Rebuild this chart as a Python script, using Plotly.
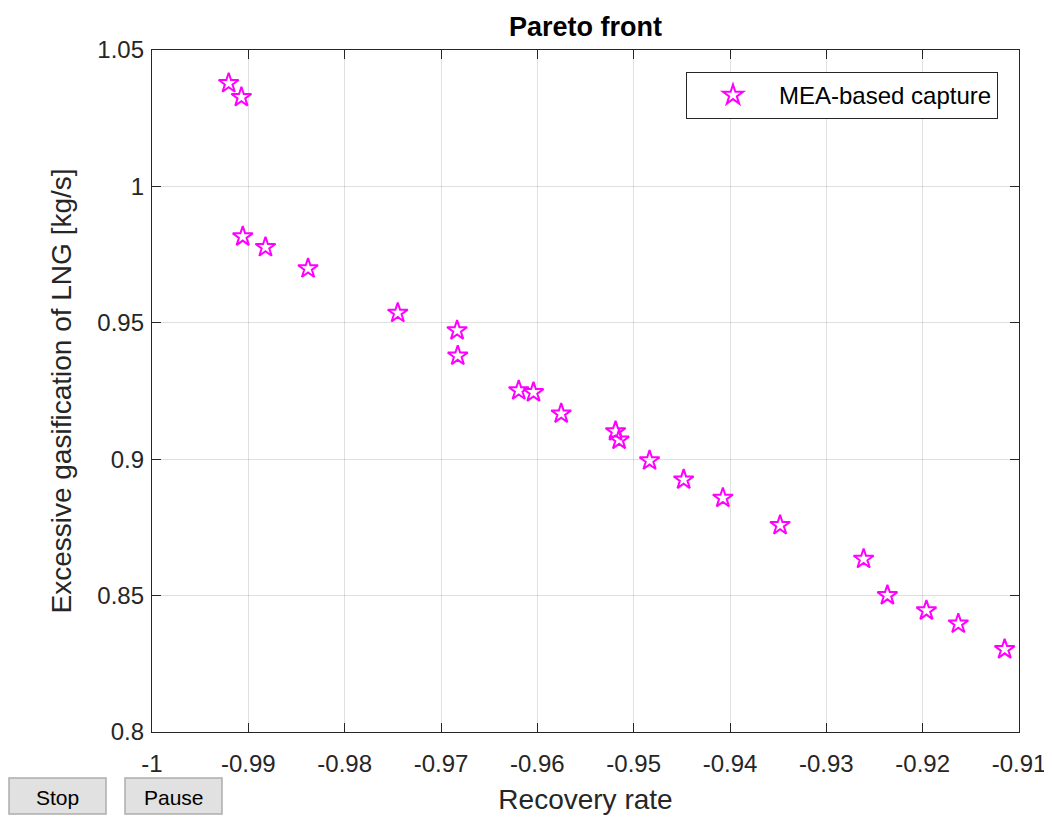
import plotly.graph_objects as go

recovery_rate = [-0.99204, -0.99072, -0.99058, -0.98822, -0.98380, -0.97449,
                 -0.96833, -0.96826, -0.96193, -0.96040, -0.95752, -0.95188,
                 -0.95151, -0.94835, -0.94481, -0.94074, -0.93480, -0.92613,
                 -0.92366, -0.91961, -0.91630, -0.91149]
excess_lng = [1.0378, 1.0327, 0.9816, 0.9777, 0.9699, 0.9536,
              0.9472, 0.9379, 0.9252, 0.9245, 0.9167, 0.9102,
              0.9071, 0.8995, 0.8925, 0.8858, 0.8758, 0.8634,
              0.8501, 0.8445, 0.8397, 0.8303]

x_ticks = [-1, -0.99, -0.98, -0.97, -0.96, -0.95, -0.94, -0.93, -0.92, -0.91]
x_tick_labels = ["-1", "-0.99", "-0.98", "-0.97", "-0.96", "-0.95", "-0.94", "-0.93", "-0.92", "-0.91"]
y_ticks = [0.8, 0.85, 0.9, 0.95, 1.0, 1.05]
y_tick_labels = ["0.8", "0.85", "0.9", "0.95", "1", "1.05"]

FONT = "Liberation Sans, Arial, sans-serif"
AX = "#262626"

# page body has an 8px margin; size the figure so the plot area lands at
# screen pixels x 152..1019, y 50..732
W, H = 1044, 809
L, R, T, B = 144, 33, 42, 85

fig = go.Figure()
fig.add_trace(go.Scatter(
    x=recovery_rate, y=excess_lng, mode="markers", name="MEA-based capture",
    marker=dict(symbol="star-open", size=15, color="#ff00ff",
                line=dict(color="#ff00ff", width=2)),
))

axis_common = dict(
    showgrid=True, gridcolor="rgba(0,0,0,0.12)", gridwidth=1,
    showline=True, linecolor=AX, linewidth=1.3, mirror="ticks",
    ticks="inside", ticklen=9, tickwidth=1.3, tickcolor=AX,
    tickfont=dict(family=FONT, size=24, color=AX),
    zeroline=False, automargin=False,
)

fig.update_layout(
    width=W, height=H,
    margin=dict(l=L, r=R, t=T, b=B, autoexpand=False),
    paper_bgcolor="white", plot_bgcolor="white",
    font=dict(family=FONT, color=AX),
    title=dict(text="<b>Pareto front</b>", xref="paper", x=0.5, xanchor="center",
               y=1 - 19 / H, yanchor="middle", font=dict(size=27, color="black")),
    xaxis=dict(range=[-1, -0.91], tickvals=x_ticks, ticktext=x_tick_labels,
               ticklabelstandoff=10,
               title=dict(text="Recovery rate", font=dict(size=28, color=AX), standoff=13),
               **axis_common),
    yaxis=dict(range=[0.8, 1.05], tickvals=y_ticks, ticktext=y_tick_labels,
               ticklabelstandoff=2,
               title=dict(text="Excessive gasification of LNG [kg/s]", font=dict(size=28, color=AX),
                          standoff=17),
               **axis_common),
    showlegend=True,
    legend=dict(x=(998 - 152) / 867, y=(732 - 72) / 682, xanchor="right", yanchor="top",
                bgcolor="white", bordercolor="#262626", borderwidth=1,
                font=dict(family=FONT, size=24, color="black"),
                itemwidth=82),
)

# bottom-left buttons (Stop / Pause)
def px_to_paper_x(px):
    return (px - 152) / 867

def px_to_paper_y(py):
    return (732 - py) / 682

for label, x0, x1 in [("Stop", 9, 106), ("Pause", 125, 222)]:
    fig.add_shape(type="rect", xref="paper", yref="paper",
                  x0=px_to_paper_x(x0), x1=px_to_paper_x(x1),
                  y0=px_to_paper_y(778), y1=px_to_paper_y(814),
                  fillcolor="#e1e1e1", line=dict(color="#adadad", width=1.5))
    fig.add_annotation(text=label, xref="paper", yref="paper",
                       x=px_to_paper_x((x0 + x1) / 2), y=px_to_paper_y(798),
                       showarrow=False, xanchor="center", yanchor="middle",
                       font=dict(family=FONT, size=21, color="black"))

fig.write_html("out.html")
